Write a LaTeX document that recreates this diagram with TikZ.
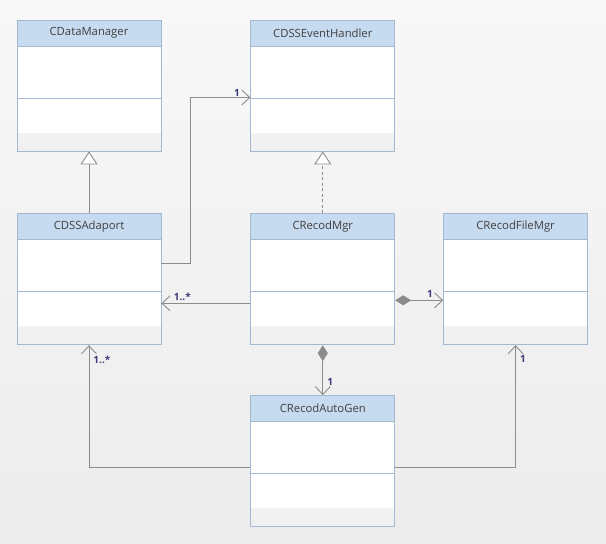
\documentclass[tikz,border=0pt]{standalone}
\usepackage{fontspec}
\setmainfont{Open Sans}
\usetikzlibrary{arrows.meta,positioning}
\definecolor{UmlFrame}{HTML}{A3B9D2}
\definecolor{UmlHead}{HTML}{C6DAF0}
\definecolor{UmlLine}{HTML}{8C8C8C}
\definecolor{UmlTxt}{HTML}{404040}
\definecolor{UmlMult}{HTML}{3A3A78}
\definecolor{UmlBackTop}{HTML}{F8F8F8}
\definecolor{UmlBackBot}{HTML}{ECECEC}

\begin{document}
\begin{tikzpicture}[
        x=1pt, y=-1pt,
        font=\fontsize{11.3}{13}\selectfont,
        umlclass/.style={
                draw=UmlFrame,
                line width=0.8pt,
                fill=white,
                inner sep=0pt,
                minimum width=144pt,
                minimum height=131pt,
                path picture={
                        \shade[top color=white, bottom color=black!6]
                        ([yshift=18pt]path picture bounding box.south west) rectangle (path picture bounding box.south east);
                        \fill[UmlHead] (path picture bounding box.north west) rectangle ([yshift=-26pt]path picture bounding box.north east);
                        \draw[UmlFrame, line width=0.8pt]
                        ([yshift=-26pt]path picture bounding box.north west) -- ([yshift=-26pt]path picture bounding box.north east);
                        \draw[UmlFrame, line width=0.8pt]
                        ([yshift=-78pt]path picture bounding box.north west) -- ([yshift=-78pt]path picture bounding box.north east);
                    }
            },
        ctitle/.style={text=UmlTxt, minimum height=26pt, inner sep=0pt},
        conn/.style={draw=UmlLine, line width=0.9pt},
        gen/.style={conn, -{Triangle[open, length=13pt, width=17pt, fill=white]}},
        real/.style={gen, dash pattern=on 3pt off 2.5pt},
        assoc/.style={conn, -{Straight Barb[length=8pt, width=15pt]}},
        comp/.style={conn, {Diamond[length=16pt, width=10pt, fill=UmlLine]}-{Straight Barb[length=8pt, width=15pt]}},
        mult/.style={font=\fontsize{10}{11}\selectfont\bfseries, text=UmlMult, inner sep=1pt},
    ]

    % Canvas
    \useasboundingbox (0,0) rectangle (606,544);
    \shade[top color=UmlBackTop, bottom color=UmlBackBot] (0,0) rectangle (606,544);

    % Classes
    \node[umlclass] (dm) at (89,85.5) {};
    \node[umlclass, right=89pt of dm] (eh) {};
    \node[umlclass, below=62pt of dm] (ad) {};
    \node[umlclass, below=62pt of eh] (mgr) {};
    \node[umlclass, right=48pt of mgr] (fm) {};
    \node[umlclass, below=50pt of mgr] (ag) {};

    \node[ctitle, below=0pt of dm.north] (dm-t) {CDataManager};
    \node[ctitle, below=0pt of eh.north] (eh-t) {CDSSEventHandler};
    \node[ctitle, below=0pt of ad.north] (ad-t) {CDSSAdaport};
    \node[ctitle, below=0pt of mgr.north] (mgr-t) {CRecodMgr};
    \node[ctitle, below=0pt of fm.north] (fm-t) {CRecodFileMgr};
    \node[ctitle, below=0pt of ag.north] (ag-t) {CRecodAutoGen};

    % Inheritance
    \draw[gen] (ad.north) -- (dm.south);
    \draw[real] (mgr.north) -- (eh.south);

    % Associations
    \draw[assoc] ([yshift=16pt]ad.east) -- ++(29,0) |- ([yshift=-12pt]eh.west)
    node[mult, pos=1, anchor=south east, xshift=-9pt] {1};

    \draw[assoc] ([yshift=-24pt]mgr.west) -- ([yshift=-24pt]ad.east)
    node[mult, pos=1, anchor=south west, xshift=11pt, yshift=1pt] {1..*};

    \draw[comp] ([yshift=-21pt]mgr.east) -- ([yshift=-21pt]fm.west)
    node[mult, pos=1, anchor=south east, xshift=-9pt, yshift=1pt] {1};

    \draw[comp] (mgr.south) -- (ag.north)
    node[mult, pos=1, anchor=south west, xshift=3pt, yshift=8pt] {1};

    \draw[assoc] ([yshift=-6pt]ag.west) -| (ad.south)
    node[mult, pos=1, anchor=north west, xshift=3pt, yshift=-9pt] {1..*};

    \draw[assoc] ([yshift=-6pt]ag.east) -| (fm.south)
    node[mult, pos=1, anchor=north west, xshift=3pt, yshift=-9pt] {1};

\end{tikzpicture}
\end{document}
